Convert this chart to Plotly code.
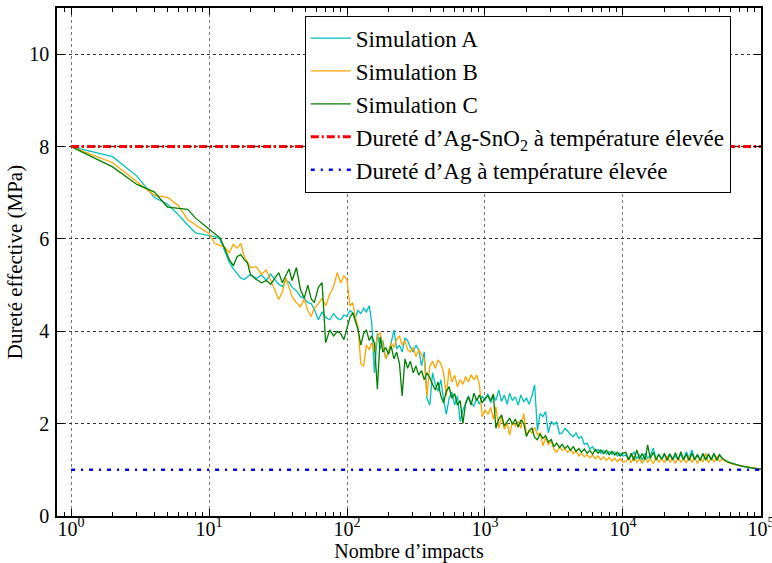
import plotly.graph_objects as go

# Shared impact counts (x)
impacts = [1, 2, 3, 4, 5, 6, 7, 8, 9, 10,
           11, 12, 13, 14, 15, 16, 17, 18, 19, 20, 22, 24, 26, 28, 30, 32, 34, 36, 38, 40,
           43, 46, 49, 52, 55, 58, 62, 66, 70, 75, 80, 85, 90, 95, 100,
           105, 110, 115, 120, 126, 132, 138, 145, 151, 158, 166, 174, 182, 191, 200,
           209, 219, 229, 240, 251, 263, 275, 288, 302, 316, 331, 347, 363, 380, 398,
           417, 437, 457, 479, 501, 525, 550, 575, 603, 631, 661, 692, 724, 759, 794,
           832, 871, 912, 955, 1000,
           1050, 1100, 1150, 1200, 1260, 1320, 1380, 1450, 1510, 1580, 1660, 1740, 1820, 1910, 2000,
           2090, 2190, 2290, 2400, 2510, 2630, 2750, 2880, 3020, 3160, 3310, 3470, 3630, 3800, 3980,
           4170, 4370, 4570, 4790, 5010, 5250, 5500, 5750, 6030, 6310, 6610, 6920, 7240, 7590, 7940,
           8320, 8710, 9120, 9550, 10000,
           10500, 11000, 11500, 12000, 12600, 13200, 13800, 14500, 15100, 15800, 16600, 17400, 18200, 19100, 20000,
           20900, 21900, 22900, 24000, 25100, 26300, 27500, 28800, 30200, 31600, 33100, 34700, 36300, 38000, 39800,
           41700, 43700, 45700, 47900, 50100, 52500, 55000, 57500, 60300, 63100, 66100, 69200, 72400, 75900, 79400,
           83200, 87100, 91200, 95500, 100000]

sim_a = [8.00, 7.78, 7.36, 6.90, 6.75, 6.52, 6.30, 6.13, 6.10, 6.08,
         6.05, 6.00, 5.75, 5.50, 5.35, 5.25, 5.15, 5.12, 5.18, 5.23, 5.14, 5.22, 5.10, 5.24, 5.12, 5.02, 4.97, 5.10, 5.06, 4.95,
         4.88, 4.75, 4.72, 4.62, 4.60, 4.47, 4.25, 4.42, 4.30, 4.25, 4.38, 4.28, 4.25, 4.35, 4.32,
         4.45, 4.40, 4.30, 4.45, 4.38, 4.50, 4.42, 4.55, 4.20, 3.10, 3.95, 3.62, 3.80, 3.40, 3.55,
         3.75, 4.03, 3.62, 3.70, 3.55, 3.85, 3.80, 3.65, 3.55, 3.70, 3.60, 3.25, 3.55, 2.55, 2.40,
         3.10, 2.85, 2.70, 2.95, 2.52, 2.20, 2.55, 2.68, 2.40, 2.60, 2.05, 2.30, 2.42, 2.60, 2.45,
         2.38, 2.55, 2.42, 2.60, 2.50,
         2.65, 2.45, 2.60, 2.50, 2.73, 2.48, 2.62, 2.42, 2.66, 2.50, 2.58, 2.40, 2.62, 2.48, 2.55,
         2.42, 2.60, 2.84, 1.85, 2.22, 2.15, 2.26, 1.80, 2.05, 1.98, 2.04, 1.78, 1.80, 1.90, 1.84,
         1.76, 1.72, 1.80, 1.68, 1.72, 1.55, 1.58, 1.45, 1.50, 1.40, 1.44, 1.36, 1.42, 1.34, 1.40,
         1.33, 1.38, 1.30, 1.36, 1.30,
         1.32, 1.22, 1.30, 1.39, 1.24, 1.33, 1.21, 1.36, 1.25, 1.31, 1.47, 1.23, 1.34, 1.22, 1.32,
         1.25, 1.35, 1.22, 1.30, 1.24, 1.33, 1.21, 1.39, 1.25, 1.43, 1.23, 1.32, 1.22, 1.36, 1.24,
         1.33, 1.21, 1.34, 1.23, 1.32, 1.24, 1.20, 1.17, 1.15, 1.13, 1.11, 1.10, 1.08, 1.07, 1.06,
         1.05, 1.04, 1.03, 1.02, 1.01]

sim_b = [8.00, 7.65, 7.24, 6.95, 6.90, 6.72, 6.42, 6.30, 6.20, 6.12,
         5.90, 5.86, 5.82, 5.70, 5.88, 5.80, 5.90, 5.62, 5.48, 5.38, 5.40, 5.23, 5.33, 5.10, 4.85, 4.69, 4.85, 5.16, 4.95, 4.75,
         4.62, 4.53, 4.70, 4.45, 4.32, 4.50, 4.60, 4.72, 4.55, 4.80, 4.97, 5.27, 5.05, 5.20, 5.12,
         4.55, 4.62, 4.30, 4.10, 3.30, 3.24, 3.70, 3.60, 3.75, 3.55, 3.90, 3.97, 3.70, 3.40, 3.55,
         3.75, 3.65, 3.82, 3.90, 3.70, 3.80, 3.60, 3.55, 3.65, 3.45, 3.60, 3.50, 3.40, 2.60, 3.24,
         3.35, 3.20, 3.38, 3.30, 3.10, 2.60, 3.20, 2.90, 3.05, 2.80, 2.95, 2.85, 3.02, 2.90, 3.06,
         2.95, 3.05, 2.85, 2.15, 2.30,
         2.20, 2.35, 2.10, 2.37, 1.90, 2.15, 1.88, 2.00, 1.75, 2.04, 1.95, 2.05, 1.90, 2.22, 1.75,
         1.85, 1.80, 1.92, 1.76, 1.80, 1.52, 1.70, 1.55, 1.62, 1.45, 1.38, 1.50, 1.42, 1.46, 1.38,
         1.44, 1.35, 1.42, 1.30, 1.36, 1.28, 1.33, 1.26, 1.32, 1.24, 1.30, 1.22, 1.28, 1.20, 1.27,
         1.19, 1.25, 1.18, 1.24, 1.17,
         1.18, 1.26, 1.15, 1.30, 1.17, 1.24, 1.14, 1.27, 1.16, 1.25, 1.13, 1.28, 1.17, 1.24, 1.15,
         1.30, 1.16, 1.25, 1.14, 1.27, 1.17, 1.24, 1.15, 1.29, 1.16, 1.26, 1.14, 1.25, 1.17, 1.36,
         1.15, 1.26, 1.17, 1.30, 1.18, 1.24, 1.19, 1.16, 1.14, 1.12, 1.11, 1.09, 1.08, 1.07, 1.06,
         1.05, 1.04, 1.03, 1.02, 1.01]

sim_c = [8.00, 7.56, 7.18, 7.02, 6.69, 6.67, 6.64, 6.45, 6.32, 6.20,
         6.10, 6.02, 5.80, 5.55, 5.42, 5.62, 5.66, 5.55, 5.48, 5.22, 5.12, 5.05, 5.10, 5.02, 5.15, 5.27, 5.05, 5.20, 5.35, 5.10,
         5.38, 4.90, 4.72, 5.00, 4.70, 4.62, 4.95, 5.05, 3.75, 4.03, 3.90, 4.00, 3.95, 3.82, 4.10,
         4.30, 4.40, 4.20, 4.05, 3.70, 3.95, 4.03, 3.80, 3.90, 3.75, 2.75, 3.88, 3.55, 3.65, 3.50,
         3.68, 3.40, 3.55, 3.30, 2.60, 3.40, 3.20, 3.35, 3.10, 3.25, 3.05, 3.15, 2.95, 3.10, 3.00,
         2.85, 2.73, 2.90, 2.60, 2.45, 2.70, 2.80, 2.55, 2.65, 2.40, 2.50, 2.00, 2.45, 2.58, 2.40,
         2.66, 2.50, 2.62, 2.45, 2.55,
         2.60, 2.50, 2.64, 1.90, 2.10, 2.19, 1.95, 2.05, 2.12, 1.98, 2.10, 1.92, 2.08, 2.00, 1.72,
         1.85, 1.90, 1.70, 1.65, 1.78, 1.68, 1.74, 1.60, 1.66, 1.50, 1.58, 1.48, 1.55, 1.46, 1.52,
         1.42, 1.50, 1.40, 1.46, 1.38, 1.45, 1.36, 1.42, 1.34, 1.44, 1.36, 1.43, 1.35, 1.42, 1.33,
         1.40, 1.32, 1.38, 1.30, 1.36,
         1.38, 1.22, 1.36, 1.20, 1.43, 1.24, 1.35, 1.22, 1.54, 1.25, 1.38, 1.21, 1.33, 1.23, 1.36,
         1.20, 1.34, 1.22, 1.37, 1.21, 1.39, 1.22, 1.34, 1.20, 1.36, 1.22, 1.33, 1.20, 1.35, 1.21,
         1.34, 1.22, 1.36, 1.20, 1.33, 1.25, 1.20, 1.17, 1.15, 1.13, 1.11, 1.10, 1.08, 1.07, 1.06,
         1.05, 1.04, 1.03, 1.02, 1.01]

ref_x = [1, 100000]
hardness_agsno2 = [8.0, 8.0]
hardness_ag = [1.0, 1.0]

x_tickvals = [1, 10, 100, 1000, 10000, 100000]
x_ticktext = ["10<sup>0</sup>", "10<sup>1</sup>", "10<sup>2</sup>", "10<sup>3</sup>", "10<sup>4</sup>", "10<sup>5</sup>"]
y_tickvals = [0, 2, 4, 6, 8, 10]

FONT = "Liberation Serif"

fig = go.Figure()
series = [
    ("Simulation A", sim_a, "#00bfbf"),
    ("Simulation B", sim_b, "#ffa500"),
    ("Simulation C", sim_c, "#008000"),
]
for name, ys, col in series:
    fig.add_trace(go.Scatter(x=impacts, y=ys, mode="lines", name=name,
                             line=dict(color=col, width=1.3)))

fig.add_trace(go.Scatter(x=ref_x, y=hardness_agsno2, mode="lines",
                         name="Dureté d’Ag-SnO<sub>2</sub> à température élevée",
                         line=dict(color="red", width=3, dash="8px,3px,2px,3px")))
fig.add_trace(go.Scatter(x=ref_x, y=hardness_ag, mode="lines",
                         name="Dureté d’Ag à température élevée",
                         line=dict(color="blue", width=2.5, dash="4px,6px,2px,6px")))

axis_common = dict(
    showline=True, linecolor="black", linewidth=1.5, mirror="allticks",
    ticks="inside", ticklen=7, tickwidth=1, tickcolor="black",
    showgrid=True, griddash="dot", gridwidth=1,
    zeroline=False, automargin=False, ticklabeloverflow="allow",
    tickfont=dict(family=FONT, size=20, color="black"),
)

fig.update_xaxes(type="log", range=[-0.102, 5.0008], tickvals=x_tickvals, ticktext=x_ticktext,
                 ticklabelstandoff=-6, gridcolor="#777",
                 title=dict(text="Nombre d’impacts", font=dict(family=FONT, size=20, color="black"), standoff=0),
                 minor=dict(ticks="inside", ticklen=4, tickcolor="black", dtick="D1", showgrid=False),
                 **axis_common)
fig.update_yaxes(range=[0, 11], tickvals=y_tickvals, ticklabelstandoff=2, gridcolor="#333",
                 title=dict(text="Dureté effective (MPa)", font=dict(family=FONT, size=21, color="black"), standoff=1),
                 **axis_common)

fig.update_layout(
    width=772, height=563,
    margin=dict(l=57, r=11, t=8, b=47),
    plot_bgcolor="white", paper_bgcolor="white",
    font=dict(family=FONT, size=20, color="black"),
    showlegend=True,
    legend=dict(x=0.352, y=0.985, xanchor="left", yanchor="top",
                bgcolor="white", bordercolor="black", borderwidth=1,
                font=dict(family=FONT, size=23, color="black"),
                itemwidth=40),
)

fig.write_html("out.html", config={"displayModeBar": False},
               post_script="document.body.style.margin='0';")
